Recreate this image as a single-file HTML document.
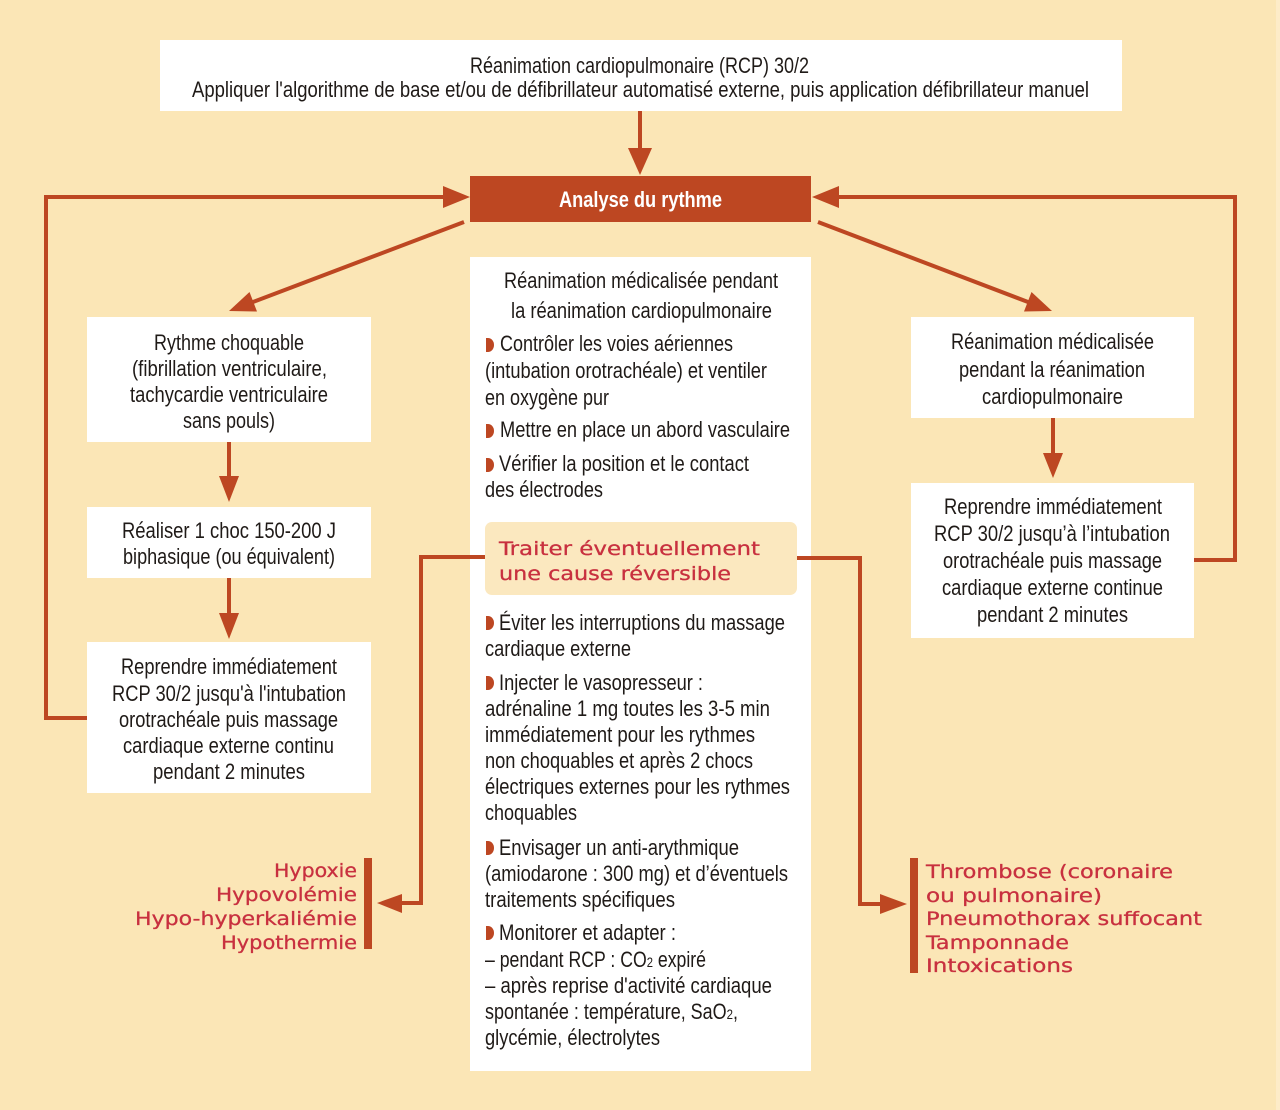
<!DOCTYPE html>
<html><head><meta charset="utf-8"><style>
html,body{margin:0;padding:0;background:#fbe6b6;}
svg{display:block;}
.t{font-family:"Liberation Sans Narrow","Liberation Sans",sans-serif;font-size:22px;fill:#1f1a17;}
.b{font-family:"Liberation Sans Narrow","Liberation Sans",sans-serif;font-size:22px;font-weight:bold;fill:#fff;}
.h{font-family:"DejaVu Sans","Liberation Sans",sans-serif;font-size:19px;fill:#c8303f;stroke:#c8303f;stroke-width:0.3px;}
</style></head><body>
<svg width="1280" height="1110" viewBox="0 0 1280 1110" xmlns="http://www.w3.org/2000/svg">
<rect x="0" y="0" width="1280" height="1110" fill="#fbe6b6"/>
<rect x="1276" y="0" width="4" height="1110" fill="#fdecc8"/>

<!-- connectors -->
<g fill="none" stroke="#bd4722" stroke-width="4" stroke-linejoin="miter">
  <line x1="640" y1="111" x2="640" y2="150"/>
  <polyline points="87,718 46,718 46,197 445,197"/>
  <polyline points="1194,560 1235,560 1235,197 838,197"/>
  <line x1="464" y1="222" x2="253" y2="302"/>
  <line x1="818" y1="222" x2="1028" y2="302"/>
  <line x1="229" y1="442" x2="229" y2="478"/>
  <line x1="229" y1="578" x2="229" y2="615"/>
  <line x1="1053" y1="418" x2="1053" y2="455"/>
</g>
<g fill="#bd4722">
  <polygon points="628,148 652,148 640,175"/>
  <polygon points="443,186 443,208 470,197"/>
  <polygon points="839,186 839,208 812,197"/>
  <polygon points="229,311 257,311.5 249.5,292"/>
  <polygon points="1052,311 1024,311.5 1031.5,292"/>
  <polygon points="219,476 239,476 229,502"/>
  <polygon points="219,613 239,613 229,639"/>
  <polygon points="1043,453 1063,453 1053,478"/>
  <polygon points="402,894 402,913 377,903"/>
  <polygon points="880,894 880,914 907,904"/>
  <rect x="364" y="858" width="8" height="91"/>
  <rect x="910" y="858" width="8" height="115"/>
</g>

<!-- top box -->
<rect x="160" y="40" width="962" height="71" fill="#fff"/>
<text class="t" x="470" y="73" textLength="339" lengthAdjust="spacingAndGlyphs">Réanimation cardiopulmonaire (RCP) 30/2</text>
<text class="t" x="192" y="97" textLength="897" lengthAdjust="spacingAndGlyphs">Appliquer l'algorithme de base et/ou de défibrillateur automatisé externe, puis application défibrillateur manuel</text>

<!-- analyse -->
<rect x="470" y="176" width="341" height="46" fill="#bd4722"/>
<text class="b" x="559" y="207" textLength="163" lengthAdjust="spacingAndGlyphs">Analyse du rythme</text>

<!-- left boxes -->
<rect x="87" y="317" width="284" height="125" fill="#fff"/>
<text class="t" x="154" y="350" textLength="150" lengthAdjust="spacingAndGlyphs">Rythme choquable</text>
<text class="t" x="132" y="376" textLength="195" lengthAdjust="spacingAndGlyphs">(fibrillation ventriculaire,</text>
<text class="t" x="130" y="402" textLength="198" lengthAdjust="spacingAndGlyphs">tachycardie ventriculaire</text>
<text class="t" x="183" y="428" textLength="92" lengthAdjust="spacingAndGlyphs">sans pouls)</text>

<rect x="87" y="507" width="284" height="71" fill="#fff"/>
<text class="t" x="122" y="538" textLength="214" lengthAdjust="spacingAndGlyphs">Réaliser 1 choc 150-200 J</text>
<text class="t" x="123" y="564" textLength="212" lengthAdjust="spacingAndGlyphs">biphasique (ou équivalent)</text>

<rect x="87" y="642" width="284" height="151" fill="#fff"/>
<text class="t" x="121" y="674" textLength="216" lengthAdjust="spacingAndGlyphs">Reprendre immédiatement</text>
<text class="t" x="112" y="701" textLength="234" lengthAdjust="spacingAndGlyphs">RCP 30/2 jusqu'à l'intubation</text>
<text class="t" x="119" y="727" textLength="219" lengthAdjust="spacingAndGlyphs">orotrachéale puis massage</text>
<text class="t" x="123" y="753" textLength="211" lengthAdjust="spacingAndGlyphs">cardiaque externe continu</text>
<text class="t" x="153" y="779" textLength="152" lengthAdjust="spacingAndGlyphs">pendant 2 minutes</text>

<!-- right boxes -->
<rect x="911" y="317" width="283" height="101" fill="#fff"/>
<text class="t" x="951" y="349" textLength="203" lengthAdjust="spacingAndGlyphs">Réanimation médicalisée</text>
<text class="t" x="959" y="377" textLength="186" lengthAdjust="spacingAndGlyphs">pendant la réanimation</text>
<text class="t" x="982" y="404" textLength="141" lengthAdjust="spacingAndGlyphs">cardiopulmonaire</text>

<rect x="911" y="483" width="283" height="155" fill="#fff"/>
<text class="t" x="944" y="514" textLength="218" lengthAdjust="spacingAndGlyphs">Reprendre immédiatement</text>
<text class="t" x="934" y="541" textLength="236" lengthAdjust="spacingAndGlyphs">RCP 30/2 jusqu’à l’intubation</text>
<text class="t" x="943" y="568" textLength="219" lengthAdjust="spacingAndGlyphs">orotrachéale puis massage</text>
<text class="t" x="942" y="595" textLength="221" lengthAdjust="spacingAndGlyphs">cardiaque externe continue</text>
<text class="t" x="977" y="622" textLength="151" lengthAdjust="spacingAndGlyphs">pendant 2 minutes</text>

<!-- center box -->
<rect x="470" y="257" width="341" height="814" fill="#fff"/>
<rect x="485" y="522" width="312" height="73" rx="7" fill="#fbe8bf"/>
<text class="h" x="499" y="555" textLength="261" lengthAdjust="spacingAndGlyphs">Traiter éventuellement</text>
<text class="h" x="499" y="580" textLength="232" lengthAdjust="spacingAndGlyphs">une cause réversible</text>

<!-- cause connectors (drawn over center box margin) -->
<g fill="none" stroke="#bd4722" stroke-width="4" stroke-linejoin="miter">
  <polyline points="485,557 421,557 421,903 402,903"/>
  <polyline points="797,558 860,558 860,904 882,904"/>
</g>

<g fill="#bd4722">
  <path d="M486,338 h2 a6,7 0 0 1 0,14 h-2 z"/>
  <path d="M486,424 h2 a6,7 0 0 1 0,14 h-2 z"/>
  <path d="M486,458 h2 a6,7 0 0 1 0,14 h-2 z"/>
  <path d="M486,616 h2 a6,7 0 0 1 0,14 h-2 z"/>
  <path d="M486,676 h2 a6,7 0 0 1 0,14 h-2 z"/>
  <path d="M486,841 h2 a6,7 0 0 1 0,14 h-2 z"/>
  <path d="M486,926 h2 a6,7 0 0 1 0,14 h-2 z"/>
</g>

<text class="t" x="504" y="288" textLength="274" lengthAdjust="spacingAndGlyphs">Réanimation médicalisée pendant</text>
<text class="t" x="511" y="318" textLength="261" lengthAdjust="spacingAndGlyphs">la réanimation cardiopulmonaire</text>
<text class="t" x="500" y="351" textLength="233" lengthAdjust="spacingAndGlyphs">Contrôler les voies aériennes</text>
<text class="t" x="485" y="378" textLength="282" lengthAdjust="spacingAndGlyphs">(intubation orotrachéale) et ventiler</text>
<text class="t" x="485" y="405" textLength="124" lengthAdjust="spacingAndGlyphs">en oxygène pur</text>
<text class="t" x="500" y="437" textLength="290" lengthAdjust="spacingAndGlyphs">Mettre en place un abord vasculaire</text>
<text class="t" x="499" y="471" textLength="250" lengthAdjust="spacingAndGlyphs">Vérifier la position et le contact</text>
<text class="t" x="485" y="497" textLength="118" lengthAdjust="spacingAndGlyphs">des électrodes</text>

<text class="t" x="499" y="630" textLength="286" lengthAdjust="spacingAndGlyphs">Éviter les interruptions du massage</text>
<text class="t" x="485" y="656" textLength="146" lengthAdjust="spacingAndGlyphs">cardiaque externe</text>
<text class="t" x="499" y="690" textLength="204" lengthAdjust="spacingAndGlyphs">Injecter le vasopresseur :</text>
<text class="t" x="485" y="716" textLength="285" lengthAdjust="spacingAndGlyphs">adrénaline 1 mg toutes les 3-5 min</text>
<text class="t" x="485" y="742" textLength="270" lengthAdjust="spacingAndGlyphs">immédiatement pour les rythmes</text>
<text class="t" x="485" y="768" textLength="268" lengthAdjust="spacingAndGlyphs">non choquables et après 2 chocs</text>
<text class="t" x="485" y="794" textLength="305" lengthAdjust="spacingAndGlyphs">électriques externes pour les rythmes</text>
<text class="t" x="485" y="820" textLength="92" lengthAdjust="spacingAndGlyphs">choquables</text>
<text class="t" x="499" y="855" textLength="240" lengthAdjust="spacingAndGlyphs">Envisager un anti-arythmique</text>
<text class="t" x="485" y="881" textLength="303" lengthAdjust="spacingAndGlyphs">(amiodarone : 300 mg) et d’éventuels</text>
<text class="t" x="485" y="907" textLength="190" lengthAdjust="spacingAndGlyphs">traitements spécifiques</text>
<text class="t" x="499" y="940" textLength="177" lengthAdjust="spacingAndGlyphs">Monitorer et adapter :</text>
<text class="t" x="485" y="967" textLength="221" lengthAdjust="spacingAndGlyphs">– pendant RCP : CO<tspan font-size="14">2</tspan> expiré</text>
<text class="t" x="485" y="993" textLength="287" lengthAdjust="spacingAndGlyphs">– après reprise d'activité cardiaque</text>
<text class="t" x="485" y="1019" textLength="253" lengthAdjust="spacingAndGlyphs">spontanée : température, SaO<tspan font-size="14">2</tspan>,</text>
<text class="t" x="485" y="1045" textLength="175" lengthAdjust="spacingAndGlyphs">glycémie, électrolytes</text>

<!-- causes left -->
<text class="h" x="274" y="877" textLength="83" lengthAdjust="spacingAndGlyphs">Hypoxie</text>
<text class="h" x="216" y="901" textLength="141" lengthAdjust="spacingAndGlyphs">Hypovolémie</text>
<text class="h" x="135" y="925" textLength="222" lengthAdjust="spacingAndGlyphs">Hypo-hyperkaliémie</text>
<text class="h" x="221" y="949" textLength="136" lengthAdjust="spacingAndGlyphs">Hypothermie</text>

<!-- causes right -->
<text class="h" x="926" y="878" textLength="247" lengthAdjust="spacingAndGlyphs">Thrombose (coronaire</text>
<text class="h" x="926" y="902" textLength="176" lengthAdjust="spacingAndGlyphs">ou pulmonaire)</text>
<text class="h" x="926" y="925" textLength="276" lengthAdjust="spacingAndGlyphs">Pneumothorax suffocant</text>
<text class="h" x="926" y="949" textLength="143" lengthAdjust="spacingAndGlyphs">Tamponnade</text>
<text class="h" x="926" y="972" textLength="147" lengthAdjust="spacingAndGlyphs">Intoxications</text>
</svg>
</body></html>
